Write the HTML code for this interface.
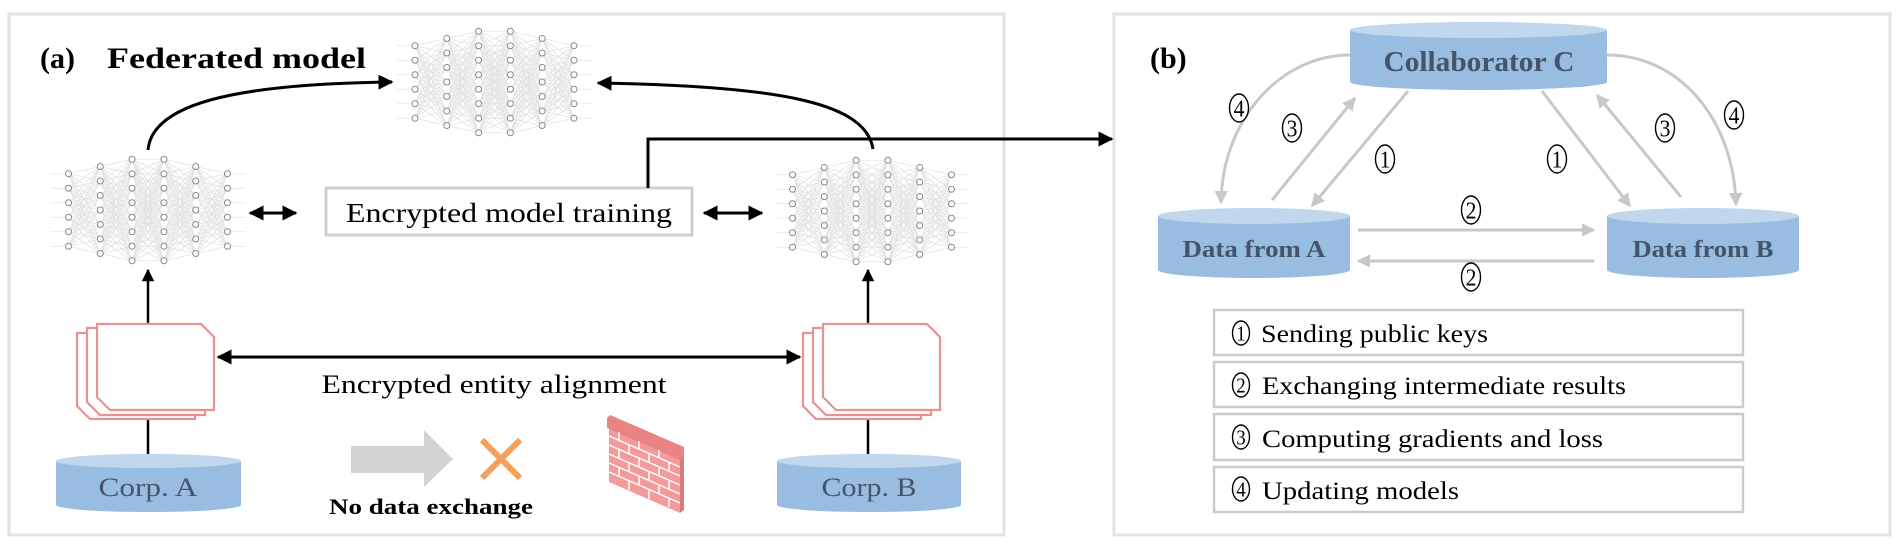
<!DOCTYPE html>
<html><head><meta charset="utf-8"><style>
html,body{margin:0;padding:0;background:#fff;}
svg{display:block;}
text{font-family:"Liberation Serif","DejaVu Serif",serif;}
</style></head><body>
<svg id="s" width="1902" height="550" viewBox="0 0 1902 550" xmlns="http://www.w3.org/2000/svg">
<defs>
<marker id="ab" viewBox="0 0 10 10" refX="9" refY="5" markerWidth="5" markerHeight="5" orient="auto-start-reverse" markerUnits="strokeWidth"><path d="M0,0 L10,5 L0,10 Z" fill="#000"/></marker>
<marker id="ag" viewBox="0 0 10 10" refX="9" refY="5" markerWidth="4.5" markerHeight="4.5" orient="auto-start-reverse" markerUnits="strokeWidth"><path d="M0,0 L10,5 L0,10 Z" fill="#c8c8c8"/></marker>
</defs>
<rect x="9" y="14" width="995" height="521" fill="none" stroke="#e2e2e2" stroke-width="3"/>
<rect x="1114" y="14" width="776" height="521" fill="none" stroke="#e2e2e2" stroke-width="3"/>

<g id="nets"></g>

<text x="40" y="68" font-size="30" font-weight="bold">(a)</text>
<text x="107" y="68" font-size="30" font-weight="bold" textLength="259" lengthAdjust="spacingAndGlyphs">Federated model</text>

<path d="M148,150 C152,105 230,84 392,82" fill="none" stroke="#000" stroke-width="3" marker-end="url(#ab)"/>
<path d="M873,149 C866,105 790,86 598,83" fill="none" stroke="#000" stroke-width="3" marker-end="url(#ab)"/>

<rect x="326" y="188" width="366" height="47" fill="#fff" stroke="#cfcfcf" stroke-width="3"/>
<text x="509" y="222" font-size="27" text-anchor="middle" textLength="326" lengthAdjust="spacingAndGlyphs">Encrypted model training</text>
<path d="M648,188 V139 H1112" fill="none" stroke="#000" stroke-width="3" marker-end="url(#ab)"/>
<line x1="250" y1="213" x2="296" y2="213" stroke="#000" stroke-width="3" marker-start="url(#ab)" marker-end="url(#ab)"/>
<line x1="704" y1="213" x2="762" y2="213" stroke="#000" stroke-width="3" marker-start="url(#ab)" marker-end="url(#ab)"/>

<line x1="148" y1="324" x2="148" y2="270" stroke="#000" stroke-width="2.5" marker-end="url(#ab)"/>
<line x1="868" y1="324" x2="868" y2="270" stroke="#000" stroke-width="2.5" marker-end="url(#ab)"/>
<line x1="148" y1="419" x2="148" y2="455" stroke="#000" stroke-width="2.5"/>
<line x1="868" y1="419" x2="868" y2="455" stroke="#000" stroke-width="2.5"/>

<g id="docs"></g>

<line x1="218" y1="357" x2="800" y2="357" stroke="#000" stroke-width="3" marker-start="url(#ab)" marker-end="url(#ab)"/>
<text x="494" y="393" font-size="26" text-anchor="middle" textLength="345" lengthAdjust="spacingAndGlyphs">Encrypted entity alignment</text>

<g id="cyls"></g>

<polygon points="351,446 424,446 424,430 453,459 424,487 424,473 351,473" fill="#d3d3d3"/>
<line x1="482" y1="440" x2="520" y2="478" stroke="#f5a05a" stroke-width="6"/>
<line x1="520" y1="440" x2="482" y2="478" stroke="#f5a05a" stroke-width="6"/>
<text x="431" y="514" font-size="22" font-weight="bold" text-anchor="middle" textLength="204" lengthAdjust="spacingAndGlyphs">No data exchange</text>

<g>
<polygon points="609,427 680,458 680,513 609,482" fill="#f49a9a"/>
<polygon points="680,458 684,455 684,510 680,513" fill="#d97a7a"/>
<polygon points="607,418 610,415 684,447 684,457 680,460 607,428" fill="#e88484"/>
<g stroke="#fff" stroke-width="1.5" fill="none">
<line x1="609" y1="436" x2="680" y2="467"/><line x1="609" y1="445" x2="680" y2="476"/>
<line x1="609" y1="454" x2="680" y2="485"/><line x1="609" y1="463" x2="680" y2="494"/>
<line x1="609" y1="472" x2="680" y2="503"/>
<line x1="619" y1="432" x2="619" y2="440"/><line x1="639" y1="441" x2="639" y2="449"/><line x1="659" y1="450" x2="659" y2="458"/>
<line x1="629" y1="445" x2="629" y2="454"/><line x1="649" y1="454" x2="649" y2="463"/><line x1="669" y1="463" x2="669" y2="471"/>
<line x1="619" y1="450" x2="619" y2="458"/><line x1="639" y1="459" x2="639" y2="467"/><line x1="659" y1="468" x2="659" y2="476"/>
<line x1="629" y1="463" x2="629" y2="472"/><line x1="649" y1="472" x2="649" y2="481"/><line x1="669" y1="481" x2="669" y2="489"/>
<line x1="619" y1="468" x2="619" y2="476"/><line x1="639" y1="477" x2="639" y2="485"/><line x1="659" y1="486" x2="659" y2="494"/>
<line x1="629" y1="481" x2="629" y2="490"/><line x1="649" y1="490" x2="649" y2="499"/><line x1="669" y1="499" x2="669" y2="507"/>
</g>
</g>

<text x="1150" y="68" font-size="30" font-weight="bold">(b)</text>
<g fill="none" stroke="#c8c8c8" stroke-width="3">
<line x1="1358" y1="230" x2="1594" y2="230" marker-end="url(#ag)"/>
<line x1="1594" y1="261" x2="1358" y2="261" marker-end="url(#ag)"/>
<line x1="1408" y1="91" x2="1312" y2="206" marker-end="url(#ag)"/>
<line x1="1272" y1="200" x2="1355" y2="98" marker-end="url(#ag)"/>
<line x1="1542" y1="91" x2="1630" y2="206" marker-end="url(#ag)"/>
<line x1="1681" y1="197" x2="1597" y2="95" marker-end="url(#ag)"/>
<path d="M1350,55 C1280,55 1222,120 1221,203" marker-end="url(#ag)"/>
<path d="M1607,55 C1680,55 1734,120 1736,205" marker-end="url(#ag)"/>
</g>

<g fill="#fff" stroke="#cbcbcb" stroke-width="2.5">
<rect x="1214" y="310" width="529" height="45"/>
<rect x="1214" y="362" width="529" height="45"/>
<rect x="1214" y="414" width="529" height="46"/>
<rect x="1214" y="467" width="529" height="45"/>
</g>
<g font-size="25">
<text x="1261" y="342" textLength="227" lengthAdjust="spacingAndGlyphs">Sending public keys</text>
<text x="1262" y="394" textLength="364" lengthAdjust="spacingAndGlyphs">Exchanging intermediate results</text>
<text x="1262" y="447" textLength="341" lengthAdjust="spacingAndGlyphs">Computing gradients and loss</text>
<text x="1262" y="499" textLength="197" lengthAdjust="spacingAndGlyphs">Updating models</text>
</g>
<g id="circ"></g>
</svg>
<script>
(function(){
var NS="http://www.w3.org/2000/svg";
function el(p,t,a){var e=document.createElementNS(NS,t);for(var k in a)e.setAttribute(k,a[k]);p.appendChild(e);return e;}
var nets=document.getElementById('nets');
function net(cx,cy){
 var counts=[6,7,8,8,7,6],sp=14.5,dx=31.8,cols=[];
 for(var i=0;i<6;i++){var x=cx+(i-2.5)*dx,ys=[];for(var j=0;j<counts[i];j++)ys.push(cy+(j-(counts[i]-1)/2)*sp);cols.push({x:x,ys:ys});}
 var g=el(nets,'g',{stroke:'#e3e3e3','stroke-width':'0.8',fill:'none'});
 for(var i=0;i<5;i++)cols[i].ys.forEach(function(a){cols[i+1].ys.forEach(function(b){el(g,'line',{x1:cols[i].x,y1:a,x2:cols[i+1].x,y2:b});});});
 cols[0].ys.forEach(function(y){el(g,'line',{x1:cols[0].x-18,y1:y,x2:cols[0].x,y2:y});});
 cols[5].ys.forEach(function(y){el(g,'line',{x1:cols[5].x,y1:y,x2:cols[5].x+18,y2:y});});
 cols.forEach(function(c){c.ys.forEach(function(y){el(nets,'circle',{cx:c.x,cy:y,r:3,fill:'#fff',stroke:'#8a8a8a','stroke-width':'1'});});});
}
net(494.5,82);net(148,210);net(872,211);
var docs=document.getElementById('docs');
function doc(x,y,w,h){var c=13;el(docs,'path',{d:'M'+(x)+','+y+' H'+(x+w-c)+' L'+(x+w)+','+(y+c)+' V'+(y+h)+' H'+(x+c)+' L'+x+','+(y+h-c)+' Z',fill:'#fff',stroke:'#e89292','stroke-width':'2.2'});}
function stack(x){doc(x-20,333,118,86);doc(x-10,328,118,87);doc(x,324,117,86);}
stack(97);stack(823);
var cy=document.getElementById('cyls');
function cyl(x,y,w,h,ry){
 el(cy,'path',{d:'M'+x+','+y+' V'+(y+h)+' A'+(w/2)+','+ry+' 0 0 0 '+(x+w)+','+(y+h)+' V'+y+' Z',fill:'#98bde1'});
 el(cy,'ellipse',{cx:x+w/2,cy:y,rx:w/2,ry:ry,fill:'#c0d7ee'});
}
cyl(56,461,185,44,7);cyl(777,461,184,44,7);
cyl(1350,30,257,52,8);cyl(1158,216,192,54,8);cyl(1607,216,192,54,8);
function t(x,y,s,txt,w,b){var e=el(cy,'text',{x:x,y:y,'font-size':s,'text-anchor':'middle',fill:'#44546a',textLength:w,lengthAdjust:'spacingAndGlyphs'});if(b)e.setAttribute('font-weight','bold');e.textContent=txt;}
t(148,496,26,'Corp. A',99);t(869,496,26,'Corp. B',95);
t(1479,71,28,'Collaborator C',191,1);t(1254,257,24,'Data from A',143,1);t(1703,257,24,'Data from B',141,1);
var ci=document.getElementById('circ');
function circ(x,y,n,rx,ry,fs){el(ci,'ellipse',{cx:x,cy:y,rx:rx,ry:ry,fill:'#fff',stroke:'#000','stroke-width':'1.4'});var e=el(ci,'text',{x:x,y:y+fs*0.35,'font-size':fs,'text-anchor':'middle',textLength:fs*0.45,lengthAdjust:'spacingAndGlyphs'});e.textContent=n;}
[[1471,210,'2'],[1471,277,'2'],[1385,159,'1'],[1557,159,'1'],[1292,128,'3'],[1665,128,'3'],[1239,108,'4'],[1734,115,'4']].forEach(function(a){circ(a[0],a[1],a[2],9.5,14,24);});
[[333,'1'],[385,'2'],[437,'3'],[489,'4']].forEach(function(a){circ(1241,a[0],a[1],8.5,12,21);});
})();
</script>
</body></html>
